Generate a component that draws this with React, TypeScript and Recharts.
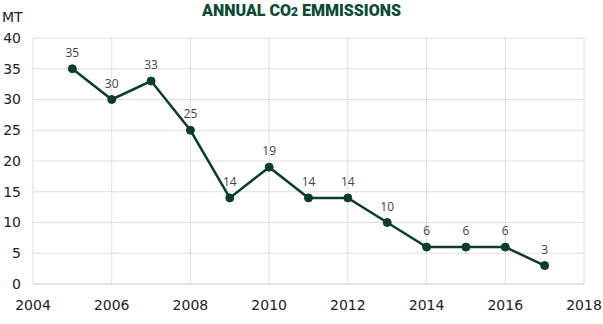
import { CartesianGrid, LabelList, Line, LineChart, XAxis, YAxis } from "recharts"

const years = [2005, 2006, 2007, 2008, 2009, 2010, 2011, 2012, 2013, 2014, 2015, 2016, 2017]
const emissions = [35, 30, 33, 25, 14, 19, 14, 14, 10, 6, 6, 6, 3]
const xTicks = [2004, 2006, 2008, 2010, 2012, 2014, 2016, 2018]
const yTicks = [0, 5, 10, 15, 20, 25, 30, 35, 40]

const data = years.map((year, i) => ({ year, value: emissions[i] }))

const green = "#0b3d2c"
const tickFont = "'DejaVu Sans', sans-serif"
const labelFont = "'Open Sans', sans-serif"

export default function App() {
  return (
    <div style={{ position: "absolute", left: 0, top: 0, width: 603, height: 324, background: "#fff" }}>
      <div
        style={{
          position: "absolute",
          left: 0,
          width: 603,
          top: 1,
          textAlign: "center",
          fontFamily: "Roboto, sans-serif",
          fontWeight: 900,
          fontSize: 16,
          color: "#0b4a36",
        }}
      >
        ANNUAL CO<span style={{ fontSize: 12 }}>2</span> EMMISSIONS
      </div>
      <div style={{ position: "absolute", left: 2, top: 9, fontSize: 14, fontFamily: tickFont, color: "#222" }}>MT</div>
      <LineChart
        width={603}
        height={324}
        data={data}
        margin={{ top: 38, right: 19, bottom: 0, left: 0 }}
      >
        <CartesianGrid stroke="#dedede" strokeWidth={1} />
        <XAxis
          dataKey="year"
          type="number"
          domain={[2004, 2018]}
          ticks={xTicks}
          tickLine={false}
          axisLine={{ stroke: "#d6d6d6" }}
          tick={{ fill: "#222", fontSize: 14, fontFamily: tickFont }}
          tickMargin={10}
          height={40}
        />
        <YAxis
          domain={[0, 40]}
          ticks={yTicks}
          tickLine={false}
          axisLine={false}
          tick={{ fill: "#222", fontSize: 14, fontFamily: tickFont }}
          width={33}
          tickMargin={6}
        />
        <Line
          dataKey="value"
          stroke={green}
          strokeWidth={2.5}
          dot={{ r: 4, fill: green, stroke: green, strokeWidth: 1 }}
          isAnimationActive={false}
        >
          <LabelList dataKey="value" position="top" offset={12} fill="#444" fontSize={12} fontFamily={labelFont} />
        </Line>
      </LineChart>
    </div>
  )
}
